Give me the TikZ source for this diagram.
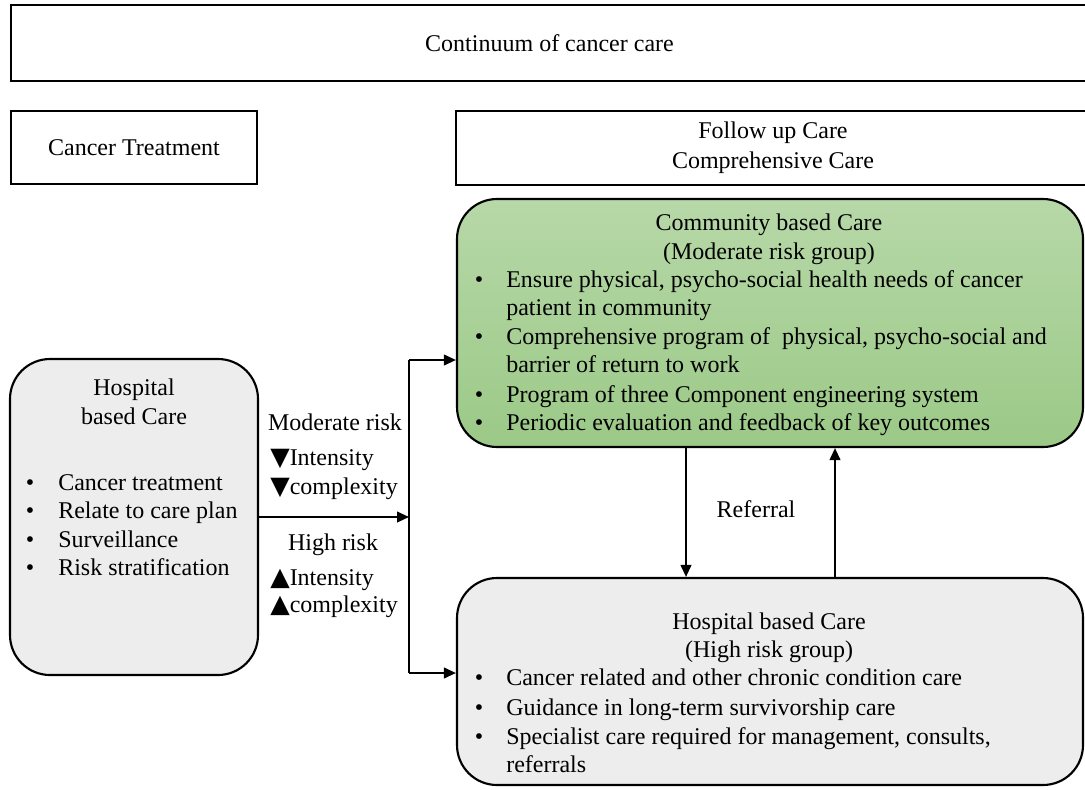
\documentclass[tikz,border=0pt]{standalone}
\usepackage{fontspec}
\setmainfont{Liberation Serif}
\newfontfamily\symfont{DejaVu Sans}
\usetikzlibrary{arrows.meta}
\definecolor{grayfill}{RGB}{237,237,237}
\definecolor{greentop}{RGB}{183,216,168}
\definecolor{greenbot}{RGB}{155,201,135}
\newcommand{\dn}{{\symfont\fontsize{19pt}{19pt}\selectfont ▼}}
\newcommand{\up}{{\symfont\fontsize{19pt}{19pt}\selectfont ▲}}
\begin{document}
\begin{tikzpicture}[x=0.75pt,y=-0.75pt,
  every node/.style={font=\fontsize{18pt}{21.4pt}\selectfont, inner sep=0pt},
  sqbox/.style={draw, line width=2.2pt, rectangle},
  rbox/.style={draw, line width=1.6pt, rounded corners=30pt},
  txt/.style={anchor=base},
  lft/.style={anchor=base west},
  arr/.style={line width=1.5pt, -{Triangle[length=9pt,width=8pt]}},
  ln/.style={line width=1.5pt}]
\useasboundingbox (0,0) rectangle (1085,789);
\clip (0,0) rectangle (1085,789);

% header boxes
\node[sqbox, minimum width=807.75pt, minimum height=57pt] (cont) at (549.5,43) {Continuum of cancer care};
\node[sqbox, minimum width=184.5pt, minimum height=54.75pt] (treat) at (134,147.5) {Cancer Treatment};
\node[sqbox, minimum width=475.5pt, minimum height=55.5pt, align=center,
      font=\fontsize{18pt}{22.5pt}\selectfont] (follow) at (773,148) {Follow up Care\\Comprehensive Care};

% main boxes
\node[rbox, fill=grayfill, minimum width=186pt, minimum height=237pt] (hosp) at (134,517) {};
\node[rbox, top color=greentop, bottom color=greenbot, minimum width=469.5pt, minimum height=186pt] (comm) at (770,323) {};
\node[rbox, fill=grayfill, minimum width=469.5pt, minimum height=155.25pt] (hrisk) at (770,681.5) {};

% left box text
\node[txt] (h1) at (134,395) {Hospital};
\node[txt] (h2) at (134,424) {based Care};
\foreach \t/\y [count=\i] in {Cancer treatment/490, Relate to care plan/518, Surveillance/547, Risk stratification/575}{
  \node[txt] (hb\i) at (30,\y) {•};
  \node[lft] (ht\i) at (58,\y) {\t};
}

% risk labels
\node[txt] (mr) at (335,430) {Moderate risk};
\node[lft] (mi) at (270,465) {\dn Intensity};
\node[lft] (mc) at (270,494) {\dn complexity};
\node[txt] (hr) at (333,550) {High risk};
\node[lft] (hi) at (270,585) {\up Intensity};
\node[lft] (hc) at (270,612) {\up complexity};

% community box text
\node[txt] (c1) at (769,230) {Community based Care};
\node[txt] (c2) at (769,259) {(Moderate risk group)};
\foreach \y [count=\i] in {287,344,402,430}{
  \node[txt] (cb\i) at (479,\y) {•};
}
\node[lft] (ct1) at (506,287) {Ensure physical, psycho-social health needs of cancer};
\node[lft] (ct2) at (506,315) {patient in community};
\node[lft] (ct3) at (506,344) {Comprehensive program of\ \ physical, psycho-social and};
\node[lft] (ct4) at (506,372) {barrier of return to work};
\node[lft] (ct5) at (506,402) {Program of three Component engineering system};
\node[lft] (ct6) at (506,430) {Periodic evaluation and feedback of key outcomes};

% high-risk box text
\node[txt] (g1) at (769,629) {Hospital based Care};
\node[txt] (g2) at (769,657) {(High risk group)};
\foreach \y [count=\i] in {685,715,744}{
  \node[txt] (gb\i) at (479,\y) {•};
}
\node[lft] (gt1) at (506,685) {Cancer related and other chronic condition care};
\node[lft] (gt2) at (506,715) {Guidance in long-term survivorship care};
\node[lft] (gt3) at (506,744) {Specialist care required for management, consults,};
\node[lft] (gt4) at (506,772) {referrals};

\node[txt] (ref) at (756,517) {Referral};

% connectors
\coordinate (j) at (409,517);
\coordinate (jt) at (409,360);
\coordinate (jb) at (409,673);
\coordinate (dx) at (686,0);
\coordinate (ux) at (835,0);
\draw[arr] (hosp.east) -- (j);
\draw[ln] (jt) -- (jb);
\draw[arr] (jt) -- (jt -| comm.west);
\draw[arr] (jb) -- (jb -| hrisk.west);
\draw[arr] (comm.south -| dx) -- (hrisk.north -| dx);
\draw[arr] (hrisk.north -| ux) -- (comm.south -| ux);
\end{tikzpicture}
\end{document}
